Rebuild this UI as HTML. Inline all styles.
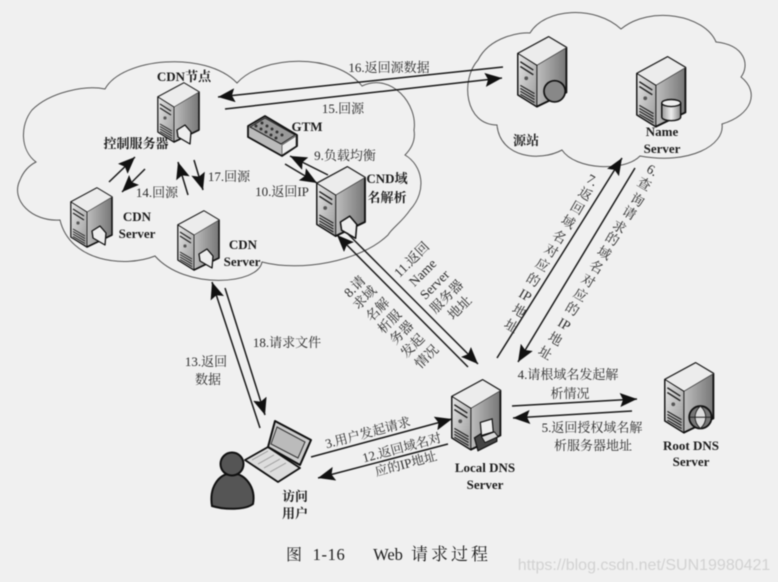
<!DOCTYPE html>
<html><head><meta charset="utf-8"><style>
html,body{margin:0;padding:0;background:#f0f0f0}
svg{display:block;filter:blur(.45px)}
text{font-family:"Liberation Serif","Noto Serif CJK SC",serif;fill:#2c2c2c;font-size:13px;text-anchor:middle}
.b{font-weight:bold;fill:#1c1c1c;font-size:13px}
.cl{fill:none;stroke:#555;stroke-width:1}
.a{stroke:#1a1a1a;stroke-width:1.5;fill:none}
.d{font-size:13.500px}
</style></head><body>
<svg width="778" height="582" viewBox="0 0 778 582" xmlns="http://www.w3.org/2000/svg">
<defs>
<linearGradient id="r" x1="0" x2="1" y1="0" y2="0"><stop offset="0" stop-color="#ececec"/><stop offset="1" stop-color="#767676"/></linearGradient>
<linearGradient id="l" x1="0" x2="1" y1="0" y2="1"><stop offset="0" stop-color="#e6e6e6"/><stop offset="1" stop-color="#999"/></linearGradient>
<linearGradient id="c" x1="0" x2="1" y1="0" y2="0"><stop offset="0" stop-color="#999"/><stop offset=".5" stop-color="#eee"/><stop offset="1" stop-color="#888"/></linearGradient>
<marker id="h" markerUnits="userSpaceOnUse" markerWidth="18" markerHeight="14" refX="17" refY="7" orient="auto"><path d="M0 0L17 7L0 14L3 7Z" fill="#111"/></marker>
<g id="s">
<path d="M0 14L26 0L41 9L41 47L16 59L0 49Z" fill="url(#r)" stroke="#111" stroke-width="1.6" stroke-linejoin="round"/>
<path d="M0 14L26 0L41 9L16 24Z" fill="#ececec" stroke="#333" stroke-width=".6"/>
<path d="M0 14L16 24L16 59L0 49Z" fill="url(#l)" stroke="#111" stroke-width=".8"/>
<path d="M2 21L13 28M2 25L13 32" stroke="#222" stroke-width="1.2"/>
<circle cx="7" cy="35" r="1.6" fill="#555"/>
<path d="M2 41L14 48M2 43.5L14 50.500M2 46L14 53M2 48.500L14 55.500" stroke="#222" stroke-width="1"/>
</g>
<g id="doc"><path d="M0 5L8 0L14 7L13 19L1 12Z" fill="#eee" stroke="#111" stroke-width="1.300" stroke-linejoin="round"/></g>
</defs>
<rect width="778" height="582" fill="#f0f0f0"/>

<!-- clouds -->
<path class="cl" d="M105 89C122 58 205 50 237 83C262 55 335 52 362 86C392 72 418 105 414 130C416 142 410 150 405 155C422 165 428 190 410 210C402 222 392 228 388 235C360 262 300 272 262 262C258 285 185 290 155 256C125 268 70 262 60 220C32 222 10 200 20 180C24 170 30 165 36 162C20 150 20 125 32 110C50 92 85 85 105 89Z"/>
<path class="cl" d="M478 60C490 36 522 32 530 33C545 8 595 5 621 29C650 5 705 15 716 42C745 45 750 65 741 77C760 92 752 115 722 124C725 145 690 165 640 156C625 172 575 170 562 150C540 162 500 158 497 125C465 125 460 80 478 60Z"/>

<!-- servers -->
<use href="#s" x="158" y="83"/>
<g transform="translate(177,125)"><use href="#doc"/></g>
<use href="#s" x="71" y="188"/>
<g transform="translate(92,226)"><use href="#doc"/></g>
<use href="#s" x="178" y="211"/>
<g transform="translate(199,249)"><use href="#doc"/></g>
<g transform="translate(317,167) scale(1.17)"><use href="#s"/><g transform="translate(20,42)"><use href="#doc"/></g></g>
<g transform="translate(518,37) scale(1.18)"><use href="#s"/><circle cx="31" cy="46" r="9" fill="#888" stroke="#111" stroke-width="1.4"/></g>
<g transform="translate(637,57) scale(1.18)"><use href="#s"/><path d="M21 39v12a8 3 0 0 0 16 0v-12" fill="url(#c)" stroke="#111" stroke-width="1.2"/><ellipse cx="29" cy="39" rx="8" ry="3" fill="#eee" stroke="#111" stroke-width="1.2"/></g>
<g transform="translate(452,380) scale(1.18)"><use href="#s"/><path d="M19 49L30 42L38 47L38 52L22 60Z" fill="#444" stroke="#111"/><path d="M24 36L34 33L35 44L25 47Z" fill="#eee" stroke="#111"/><path d="M25 48L36 44L39 48L28 53Z" fill="#ddd" stroke="#111" stroke-width=".8"/></g>
<g transform="translate(665,363) scale(1.18)"><use href="#s"/><circle cx="30" cy="46" r="9.500" fill="#777" stroke="#111" stroke-width="1.500"/><path d="M21 46H39M30 36.500C24 42 24 50 30 55.500C36 50 36 42 30 36.500" fill="#ddd" stroke="#222" stroke-width=".8"/></g>

<!-- GTM -->
<path d="M248 126L265 116L297 135L297 146L282 156L248 137Z" fill="#bbb" stroke="#111" stroke-width="1.800" stroke-linejoin="round"/>
<path d="M250 127L265 118L295 135L281 144Z" fill="#999" stroke="#222"/>
<path d="M282 145L296 136L296 146L282 155Z" fill="#eee" stroke="#222" stroke-width=".6"/>
<g fill="#333"><circle cx="256" cy="126" r="1.500"/><circle cx="261" cy="129" r="1.500"/><circle cx="266" cy="132" r="1.500"/><circle cx="271" cy="135" r="1.500"/><circle cx="276" cy="138" r="1.500"/><circle cx="262" cy="123" r="1.500"/><circle cx="267" cy="126" r="1.500"/><circle cx="272" cy="129" r="1.500"/><circle cx="277" cy="132" r="1.500"/><circle cx="282" cy="135" r="1.500"/></g>

<!-- laptop -->
<path d="M245 460L268 447L300 468L278 482Z" fill="#ddd" stroke="#111" stroke-width="1.800" stroke-linejoin="round"/>
<path d="M275 421L311 440L300 465L268 447Z" fill="#ccc" stroke="#111" stroke-width="2" stroke-linejoin="round"/>
<path d="M277 427L305 442L298 458L271 444Z" fill="#bbb" stroke="#333"/>
<path d="M252 460L268 451M258 464L274 455M264 468L280 459M270 472L286 463" stroke="#999" stroke-width="1"/>

<!-- person -->
<path d="M212 506C209 488 218 474 232 473C246 474 256 488 253 504C245 510 225 510 212 506Z" fill="#555" stroke="#111" stroke-width="2"/>
<circle cx="232" cy="464" r="11.500" fill="#555" stroke="#111" stroke-width="2"/>

<!-- connectors -->
<g class="a">
<path d="M503 67L218 97" marker-end="url(#h)"/>
<path d="M225 109L502 78" marker-end="url(#h)"/>
<path d="M109 182L135 157" marker-end="url(#h)"/>
<path d="M145 169L122 192" marker-end="url(#h)"/>
<path d="M188 195L178 162" marker-end="url(#h)"/>
<path d="M194 160L203 190" marker-end="url(#h)"/>
<path d="M328 175L290 156" marker-end="url(#h)"/>
<path d="M285 164L317 183" marker-end="url(#h)"/>
<path d="M468 367L337 235" marker-end="url(#h)"/>
<path d="M347 233L478 364" marker-end="url(#h)"/>
<path d="M497 358L622 158" marker-end="url(#h)"/>
<path d="M635 168L518 362" marker-end="url(#h)"/>
<path d="M512 406L637 399" marker-end="url(#h)"/>
<path d="M632 411L513 418" marker-end="url(#h)"/>
<path d="M311 457L452 419" marker-end="url(#h)"/>
<path d="M448 444L318 478" marker-end="url(#h)"/>
<path d="M260 428L212 282" marker-end="url(#h)"/>
<path d="M225 288L265 415" marker-end="url(#h)"/>
</g>

<!-- node labels -->
<text class="b" x="184" y="81">CDN节点</text>
<text class="b" x="136" y="148">控制服务器</text>
<text class="b" x="137" y="221">CDN</text><text class="b" x="137" y="238">Server</text>
<text class="b" x="243" y="249">CDN</text><text class="b" x="242" y="266">Server</text>
<text class="b" x="307" y="131">GTM</text>
<text class="b" x="387" y="183">CND域</text><text class="b" x="387" y="202">名解析</text>
<text class="b" x="526" y="145">源站</text>
<text class="b" x="662" y="136">Name</text><text class="b" x="662" y="153">Server</text>
<text class="b" x="485" y="472">Local DNS</text><text class="b" x="485" y="489">Server</text>
<text class="b" x="691" y="450">Root DNS</text><text class="b" x="691" y="466">Server</text>
<text class="b" x="295" y="501">访问</text><text class="b" x="295" y="518">用户</text>

<!-- connector labels -->
<text x="389" y="72">16.返回源数据</text>
<text x="343" y="113">15.回源</text>
<text x="345" y="160">9.负载均衡</text>
<text x="282" y="196">10.返回IP</text>
<text x="157" y="197">14.回源</text>
<text x="229" y="181">17.回源</text>
<text x="206" y="366">13.返回</text><text x="208" y="384">数据</text>
<text x="287" y="347">18.请求文件</text>

<text transform="translate(369,437) rotate(-15)">3.用户发起请求</text>
<text transform="translate(403,452) rotate(-15)">12.返回域名对</text>
<text transform="translate(407,468) rotate(-15)">应的IP地址</text>

<text x="568" y="379">4.请根域名发起解</text>
<text x="570" y="398">析情况</text>
<text x="592" y="432">5.返回授权域名解</text>
<text x="593" y="450">析服务器地址</text>

<g class="d">
<text class="d" transform="translate(355,287) rotate(-45)" dy="4">8.请</text>
<text class="d" transform="translate(365,298) rotate(-45)" dy="4">求域</text>
<text class="d" transform="translate(378,310) rotate(-45)" dy="4">名解</text>
<text class="d" transform="translate(390,322) rotate(-45)" dy="4">析服</text>
<text class="d" transform="translate(402,333) rotate(-45)" dy="4">务器</text>
<text class="d" transform="translate(413,346) rotate(-45)" dy="4">发起</text>
<text class="d" transform="translate(427,357) rotate(-45)" dy="4">情况</text>
<text class="d" transform="translate(412,260) rotate(-45)" dy="4">11.返回</text>
<text class="d" transform="translate(423,273) rotate(-45)" dy="4">Name</text>
<text class="d" transform="translate(435,285) rotate(-45)" dy="4">Server</text>
<text class="d" transform="translate(447,297) rotate(-45)" dy="4">服务器</text>
<text class="d" transform="translate(460,308) rotate(-45)" dy="4">地址</text>
</g>

<g>
<text class="d" transform="translate(590,184) rotate(30)">7.</text>
<text class="d" transform="translate(583,198) rotate(30)">返</text>
<text class="d" transform="translate(575,212) rotate(30)">回</text>
<text class="d" transform="translate(566,226) rotate(30)">域</text>
<text class="d" transform="translate(557,241) rotate(30)">名</text>
<text class="d" transform="translate(549,255) rotate(30)">对</text>
<text class="d" transform="translate(540,269) rotate(30)">应</text>
<text class="d" transform="translate(531,284) rotate(30)">的</text>
<text class="d" transform="translate(523,299) rotate(30)">IP</text>
<text class="d" transform="translate(517,315) rotate(30)">地</text>
<text class="d" transform="translate(509,330) rotate(30)">址</text>

<text class="d" transform="translate(650,174) rotate(30)">6.</text>
<text class="d" transform="translate(642,188) rotate(30)">查</text>
<text class="d" transform="translate(635,204) rotate(30)">询</text>
<text class="d" transform="translate(627,217) rotate(30)">请</text>
<text class="d" transform="translate(617,231) rotate(30)">求</text>
<text class="d" transform="translate(610,243) rotate(30)">的</text>
<text class="d" transform="translate(602,257) rotate(30)">域</text>
<text class="d" transform="translate(594,271) rotate(30)">名</text>
<text class="d" transform="translate(586,285) rotate(30)">对</text>
<text class="d" transform="translate(578,299) rotate(30)">应</text>
<text class="d" transform="translate(570,313) rotate(30)">的</text>
<text class="d" transform="translate(562,328) rotate(30)">IP</text>
<text class="d" transform="translate(553,343) rotate(30)">地</text>
<text class="d" transform="translate(543,357) rotate(30)">址</text>
</g>

<!-- caption -->
<g>
<text x="294" y="560" style="font-size:16px;fill:#1c1c1c">图</text>
<text x="329" y="560" style="font-size:16.500px;letter-spacing:.6px;fill:#1c1c1c">1-16</text>
<text x="388" y="560" style="font-size:16.500px;fill:#1c1c1c">Web</text>
<text x="451" y="560" style="font-size:17px;letter-spacing:3px;fill:#1c1c1c">请求过程</text>
</g>
<text x="644" y="570" style="font-family:'Liberation Sans',sans-serif;font-size:16px;fill:#d2d2d2">https://blog.csdn.net/SUN19980421</text>
</svg>
</body></html>
